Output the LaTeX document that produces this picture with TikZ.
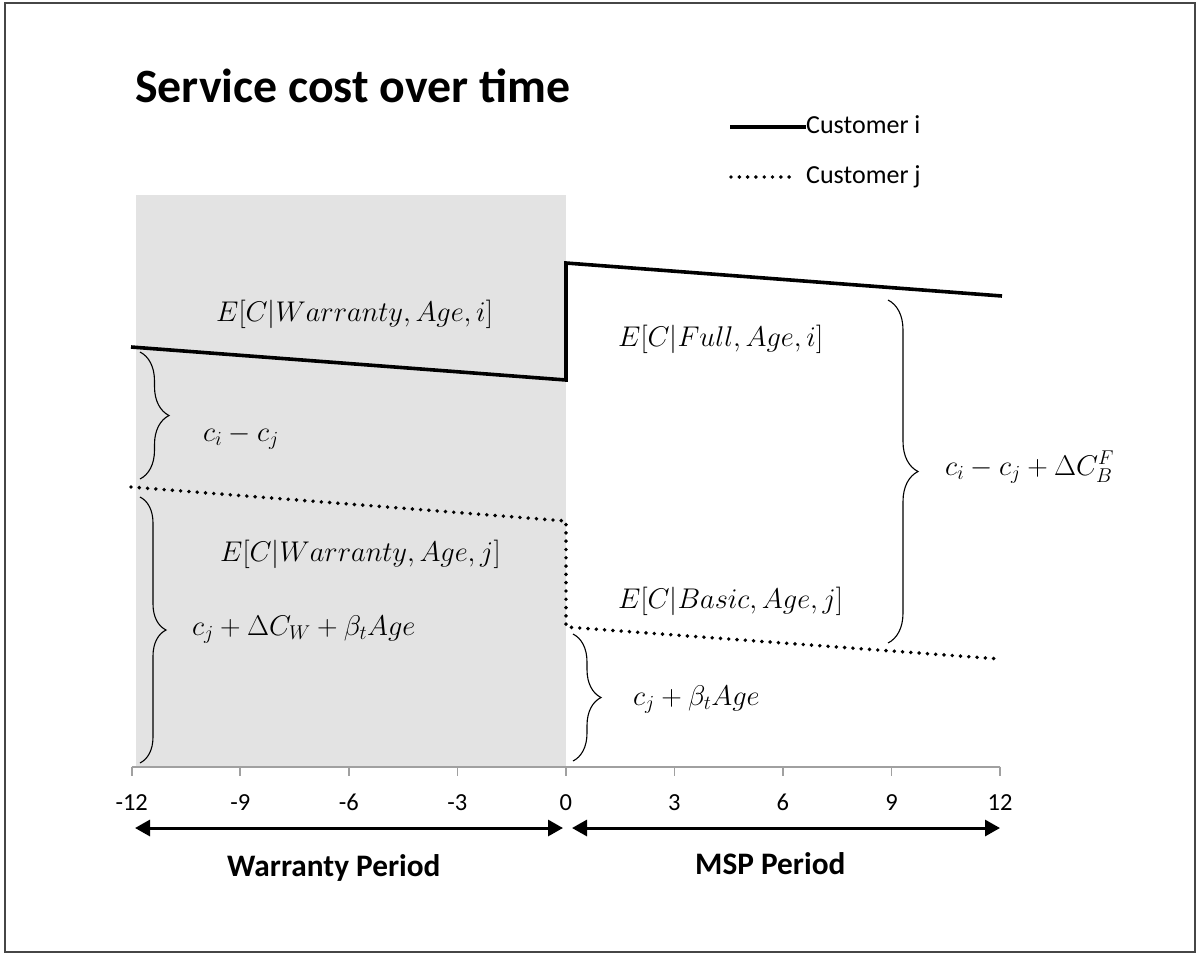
\RequirePackage{fix-cm}
\documentclass[tikz,border=0pt]{standalone}
\usepackage[no-math]{fontspec}
\setmainfont{Carlito}
\usetikzlibrary{decorations.pathreplacing,arrows.meta}
\definecolor{shadegray}{RGB}{227,227,227}
\definecolor{axisgray}{RGB}{160,160,160}
\definecolor{framegray}{RGB}{70,70,70}
\begin{document}
\begin{tikzpicture}[x=1pt,y=-1pt,
  frame/.style={draw=framegray,line width=2pt},
  curvei/.style={line width=3.6pt,line join=miter},
  curvej/.style={line width=3.9pt,line cap=round,dash pattern=on 0pt off 8.3pt},
  bracestyle/.style={decorate,decoration={brace,amplitude=#1},line width=1.1pt},
  mathlbl/.style={anchor=base west,inner sep=0pt,font=\fontsize{28.5}{34}\selectfont},
  ticklbl/.style={anchor=base,inner sep=0pt,font=\fontsize{24.5}{28}\selectfont},
  legendlbl/.style={anchor=base west,inner sep=0pt,font=\fontsize{26}{30}\selectfont},
  periodlbl/.style={anchor=base west,inner sep=0pt,font=\bfseries\fontsize{31.3}{36}\selectfont},
  periodarrow/.style={{Triangle[length=15pt,width=16pt]}-{Triangle[length=15pt,width=16pt]},line width=3pt},
  axisline/.style={draw=axisgray,line width=1.6pt}]
\useasboundingbox (0,0) rectangle (1198,954);
\draw[frame] (5,3) rectangle (1195,952);
% shaded warranty region
\fill[shadegray] (136,195) rectangle (566,766.7);
% title
\node[anchor=base west,inner sep=0pt,font=\bfseries\fontsize{47.8}{54}\selectfont] (title) at (135,102) {Service cost over time};
% legend
\node[legendlbl] (legi) at (806,133.3) {Customer i};
\node[legendlbl] (legj) at (806,183.3) {Customer j};
\coordinate (legis) at (730,127);
\coordinate (legjs) at (731,177);
\draw[curvei] (legis) -- (legis -| legi.west);
\draw[curvej] (legjs) -- ([xshift=-14pt]legjs -| legj.west);
% axis
\draw[axisline] (131.7,766.7) coordinate (ax0) -- (1000,766.7) coordinate (ax1);
\foreach \v [count=\k from 0] in {-12,-9,-6,-3,0,3,6,9,12}{
  \draw[axisline] ({131.7+108.54*\k},766.7) -- ++(0,9);
  \node[ticklbl] (tick\k) at ({131.7+108.54*\k},810) {\v};
}
% customer curves
\coordinate (i0) at (131,347);
\coordinate (i1) at (566,380);
\coordinate (i2) at (566,263);
\coordinate (i3) at (1002,296);
\draw[curvei] (i0) -- (i1) -- (i2) -- (i3);
\coordinate (j0) at (131,487);
\coordinate (j1) at (566,521);
\coordinate (j2) at (566,627);
\coordinate (j3) at (1000,659);
\draw[curvej] (j0) -- (j1) -- (j2) -- (j3);
% braces
\draw[bracestyle=29pt] (140,352) -- (140,479);
\draw[bracestyle=26pt] (140,497) -- (140,763);
\draw[bracestyle=28pt] (573,634) -- (573,761);
\draw[bracestyle=30pt] (888,300) -- (888,643);
% labels
\node[mathlbl] (wi) at (216,321) {$E[C|Warranty,Age,i]$};
\node[mathlbl] (cij) at (203,441) {$c_i-c_j$};
\node[mathlbl] (wj) at (220,561.5) {$E[C|Warranty,Age,j]$};
\node[mathlbl] (cjw) at (192,635) {$c_j+\Delta C_W+\beta_t Age$};
\node[mathlbl] (fi) at (618,346.5) {$E[C|Full,Age,i]$};
\node[mathlbl] (bj) at (618,608) {$E[C|Basic,Age,j]$};
\node[mathlbl] (big) at (945,475) {$c_i-c_j+\Delta C_B^F$};
\node[mathlbl] (cjb) at (633,705) {$c_j+\beta_t Age$};
% period arrows
\draw[periodarrow] (135,828) coordinate (wa0) -- (563,828) coordinate (wa1);
\draw[periodarrow] (572,828) coordinate (ma0) -- (1000,828) coordinate (ma1);
\node[periodlbl] (wp) at (227,876.7) {Warranty Period};
\node[periodlbl] (mp) at (695,874) {MSP Period};
\end{tikzpicture}
\end{document}
